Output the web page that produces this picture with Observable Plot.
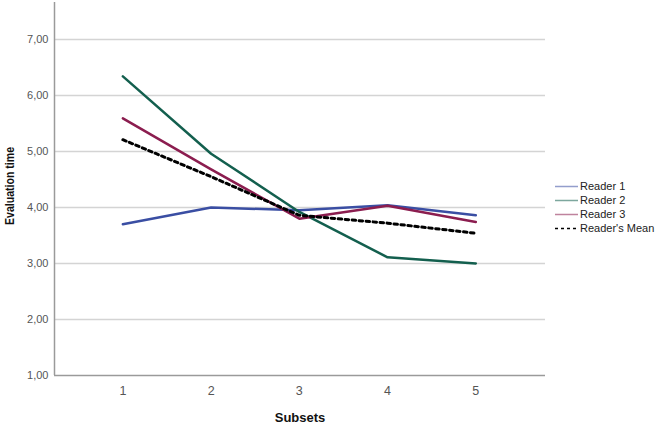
<!DOCTYPE html>
<html>
<head>
<meta charset="utf-8">
<script src="https://cdn.jsdelivr.net/npm/d3@7"></script>
<script src="https://cdn.jsdelivr.net/npm/@observablehq/plot@0.6"></script>
<style>
  body { margin: 0; background: #fff; }
  #wrap { position: relative; width: 657px; height: 424px; font-family: "Liberation Sans", Arial, sans-serif; }
  #legend { position: absolute; left: 555px; top: 179px; font-size: 11px; color: #222; }
  #legend .row { display: flex; align-items: center; height: 14px; line-height: 12px; }
  #legend svg { margin-right: 1px; }
</style>
</head>
<body>
<div id="wrap"></div>
<script>
const subsets = [1, 2, 3, 4, 5];
const reader1 = [3.70, 4.00, 3.95, 4.04, 3.86];
const reader2 = [6.34, 4.96, 3.92, 3.11, 3.00];
const reader3 = [5.59, 4.68, 3.80, 4.03, 3.74];
const readerMean = [5.21, 4.55, 3.86, 3.72, 3.54];
const seriesNames = ["Reader 1", "Reader 2", "Reader 3", "Reader's Mean"];
const yTicks = [1, 2, 3, 4, 5, 6, 7];
const colors = ["#3a4ea3", "#135f4e", "#8b1d4f", "#000000"];

const seriesValues = [reader1, reader2, reader3, readerMean];
const data = seriesValues.flatMap((vals, i) =>
  subsets.map((s, j) => ({ subset: s, value: vals[j], series: seriesNames[i] })));

const fmt = d => d3.format(".2f")(d).replace(".", ",");
const xDom = [0.225, 5.79];

const chart = Plot.plot({
  width: 657,
  height: 424,
  marginLeft: 54,
  marginRight: 112,
  marginTop: 2,
  marginBottom: 49,
  style: { fontFamily: "Liberation Sans, Arial, sans-serif", background: "#fff" },
  x: { domain: xDom, ticks: subsets, tickFormat: d => String(d), tickSize: 0, label: null },
  y: { domain: [1, 7.66], ticks: yTicks, tickFormat: fmt, tickSize: 0, label: null },
  marks: [
    Plot.gridY(yTicks.filter(t => t > 1), { stroke: "#d4d4d4", strokeOpacity: 1, strokeWidth: 1.5 }),
    Plot.axisY({ ticks: yTicks, tickFormat: fmt, tickSize: 0, tickPadding: 6, fontSize: 11, fill: "#555", label: null }),
    Plot.axisX({ ticks: subsets, tickFormat: d => String(d), tickSize: 0, tickPadding: 11, fontSize: 12.5, fill: "#555", label: null }),
    Plot.ruleX([xDom[0]], { stroke: "#9a9a9a", strokeWidth: 1.5 }),
    Plot.ruleY([1], { stroke: "#9a9a9a", strokeWidth: 1.5 }),
    Plot.line(data.filter(d => d.series !== "Reader's Mean"), {
      x: "subset", y: "value", z: "series",
      stroke: d => colors[seriesNames.indexOf(d.series)],
      strokeWidth: 2.5
    }),
    Plot.line(data.filter(d => d.series === "Reader's Mean"), {
      x: "subset", y: "value",
      stroke: "#000", strokeWidth: 3, strokeDasharray: "3.5,3.5"
    }),
    Plot.text(["Subsets"], { frameAnchor: "bottom", lineAnchor: "middle", dy: 42, fontWeight: "bold", fontSize: 13, fill: "#111" }),
    Plot.text(["Evaluation time"], { frameAnchor: "left", textAnchor: "middle", lineAnchor: "middle", dx: -45, dy: -3, rotate: -90, fontWeight: "bold", fontSize: 13, fill: "#111", className: "ylab" })
  ]
});

const wrap = document.getElementById("wrap");
wrap.appendChild(chart);
d3.select(chart).selectAll(".ylab text").attr("textLength", 78).attr("lengthAdjust", "spacingAndGlyphs");

const legend = document.createElement("div");
legend.id = "legend";
seriesNames.forEach((name, i) => {
  const row = document.createElement("div");
  row.className = "row";
  const dash = i === 3 ? 'stroke-dasharray="3,3"' : "";
  row.innerHTML = `<svg width="24" height="9"><line x1="0" x2="23" y1="4.5" y2="4.5" stroke="${colors[i]}" stroke-opacity="${i === 3 ? 1 : 0.55}" stroke-width="1.5" ${dash}/></svg><span>${name}</span>`;
  legend.appendChild(row);
});
wrap.appendChild(legend);
</script>
</body>
</html>
